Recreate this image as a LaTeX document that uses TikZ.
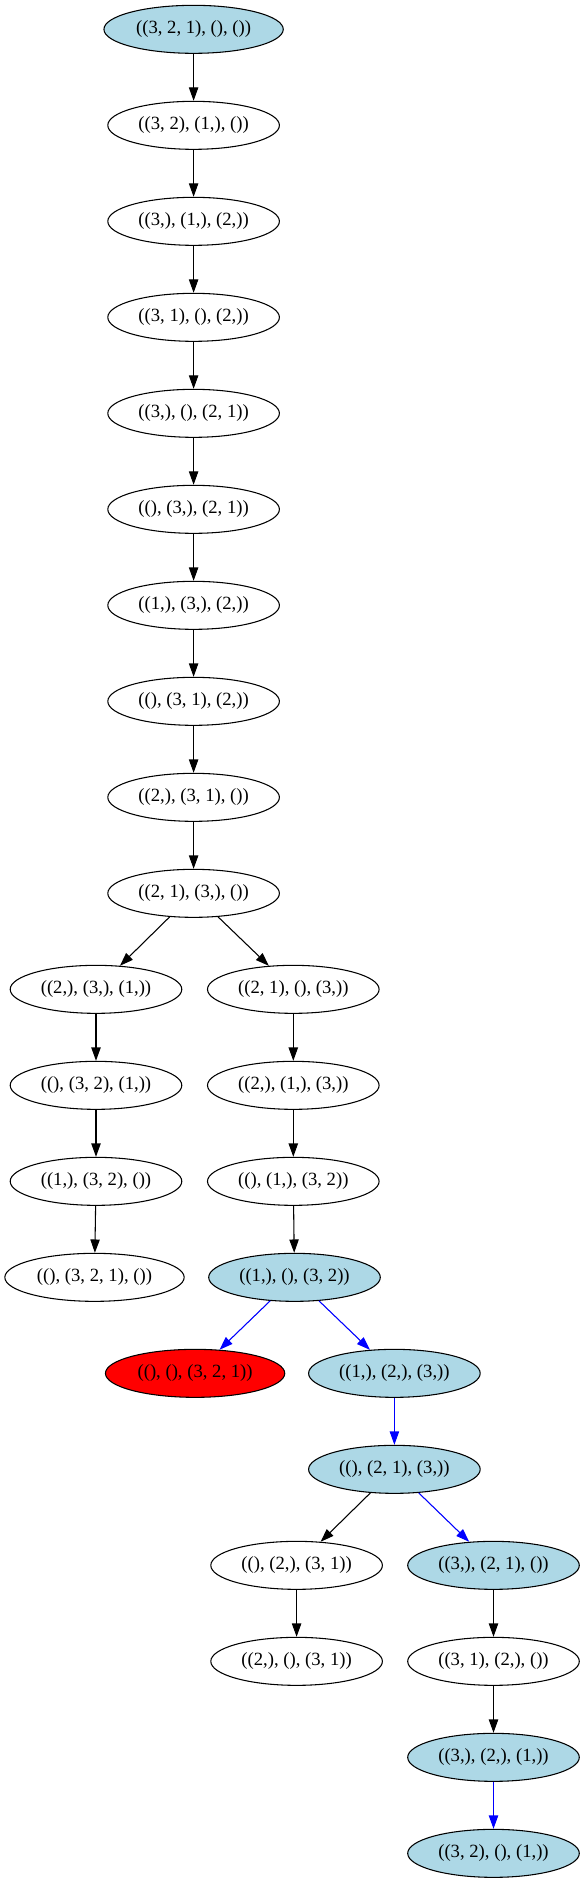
\documentclass[tikz,border=0pt]{standalone}
\usepackage{fontspec}
\setmainfont{Liberation Serif}
\usetikzlibrary{shapes.geometric,arrows.meta}
\definecolor{lblue}{HTML}{ADD8E6}
\tikzset{
  st/.style={ellipse, draw=black, line width=0.8pt, inner sep=0pt,
    minimum width=128.7pt, minimum height=36pt,
    font=\fontsize{14}{16}\selectfont},
  wide/.style={minimum width=134.5pt},
  hl/.style={fill=lblue},
  bad/.style={fill=red},
  ed/.style={line width=0.8pt, -{Triangle[length=10pt,width=7pt]}},
  be/.style={ed, draw=blue, fill=blue}
}
\begin{document}
\begin{tikzpicture}[x=0.75pt,y=-0.75pt]
\useasboundingbox (0,0) rectangle (583,1883);
\def\ry#1{29.33+96*#1}
\node[st,wide,hl] (r1) at (193.6,{\ry{0}}) {((3, 2, 1), (), ())};
\node[st] (r2) at (193.6,{\ry{1}}) {((3, 2), (1,), ())};
\node[st] (r3) at (193.6,{\ry{2}}) {((3,), (1,), (2,))};
\node[st] (r4) at (193.6,{\ry{3}}) {((3, 1), (), (2,))};
\node[st] (r5) at (193.6,{\ry{4}}) {((3,), (), (2, 1))};
\node[st] (r6) at (193.6,{\ry{5}}) {((), (3,), (2, 1))};
\node[st] (r7) at (193.6,{\ry{6}}) {((1,), (3,), (2,))};
\node[st] (r8) at (193.6,{\ry{7}}) {((), (3, 1), (2,))};
\node[st] (r9) at (193.6,{\ry{8}}) {((2,), (3, 1), ())};
\node[st] (r10) at (193.6,{\ry{9}}) {((2, 1), (3,), ())};
\node[st] (a11) at (96,{\ry{10}}) {((2,), (3,), (1,))};
\node[st] (b11) at (293.3,{\ry{10}}) {((2, 1), (), (3,))};
\node[st] (a12) at (96,{\ry{11}}) {((), (3, 2), (1,))};
\node[st] (b12) at (293.3,{\ry{11}}) {((2,), (1,), (3,))};
\node[st] (a13) at (96,{\ry{12}}) {((1,), (3, 2), ())};
\node[st] (b13) at (293.3,{\ry{12}}) {((), (1,), (3, 2))};
\node[st,wide] (a14) at (94.5,{\ry{13}}) {((), (3, 2, 1), ())};
\node[st,hl] (b14) at (294.5,{\ry{13}}) {((1,), (), (3, 2))};
\node[st,wide,bad] (a15) at (195.1,{\ry{14}}) {((), (), (3, 2, 1))};
\node[st,hl] (b15) at (394.4,{\ry{14}}) {((1,), (2,), (3,))};
\node[st,hl] (r16) at (394.4,{\ry{15}}) {((), (2, 1), (3,))};
\node[st] (a17) at (296.6,{\ry{16}}) {((), (2,), (3, 1))};
\node[st,hl] (b17) at (493.5,{\ry{16}}) {((3,), (2, 1), ())};
\node[st] (a18) at (296.6,{\ry{17}}) {((2,), (), (3, 1))};
\node[st] (b18) at (493.5,{\ry{17}}) {((3, 1), (2,), ())};
\node[st,hl] (r19) at (493.5,{\ry{18}}) {((3,), (2,), (1,))};
\node[st,hl] (r20) at (493.5,{\ry{19}}) {((3, 2), (), (1,))};
\draw[ed] (r1) -- (r2);
\draw[ed] (r2) -- (r3);
\draw[ed] (r3) -- (r4);
\draw[ed] (r4) -- (r5);
\draw[ed] (r5) -- (r6);
\draw[ed] (r6) -- (r7);
\draw[ed] (r7) -- (r8);
\draw[ed] (r8) -- (r9);
\draw[ed] (r9) -- (r10);
\draw[ed] (r10) -- (a11);
\draw[ed] (r10) -- (b11);
\draw[ed] (a11) -- (a12);
\draw[ed] (a12) -- (a13);
\draw[ed] (a13) -- (a14);
\draw[ed] (b11) -- (b12);
\draw[ed] (b12) -- (b13);
\draw[ed] (b13) -- (b14);
\draw[be] (b14) -- (a15);
\draw[be] (b14) -- (b15);
\draw[be] (b15) -- (r16);
\draw[ed] (r16) -- (a17);
\draw[be] (r16) -- (b17);
\draw[ed] (a17) -- (a18);
\draw[ed] (b17) -- (b18);
\draw[ed] (b18) -- (r19);
\draw[be] (r19) -- (r20);
\end{tikzpicture}
\end{document}
